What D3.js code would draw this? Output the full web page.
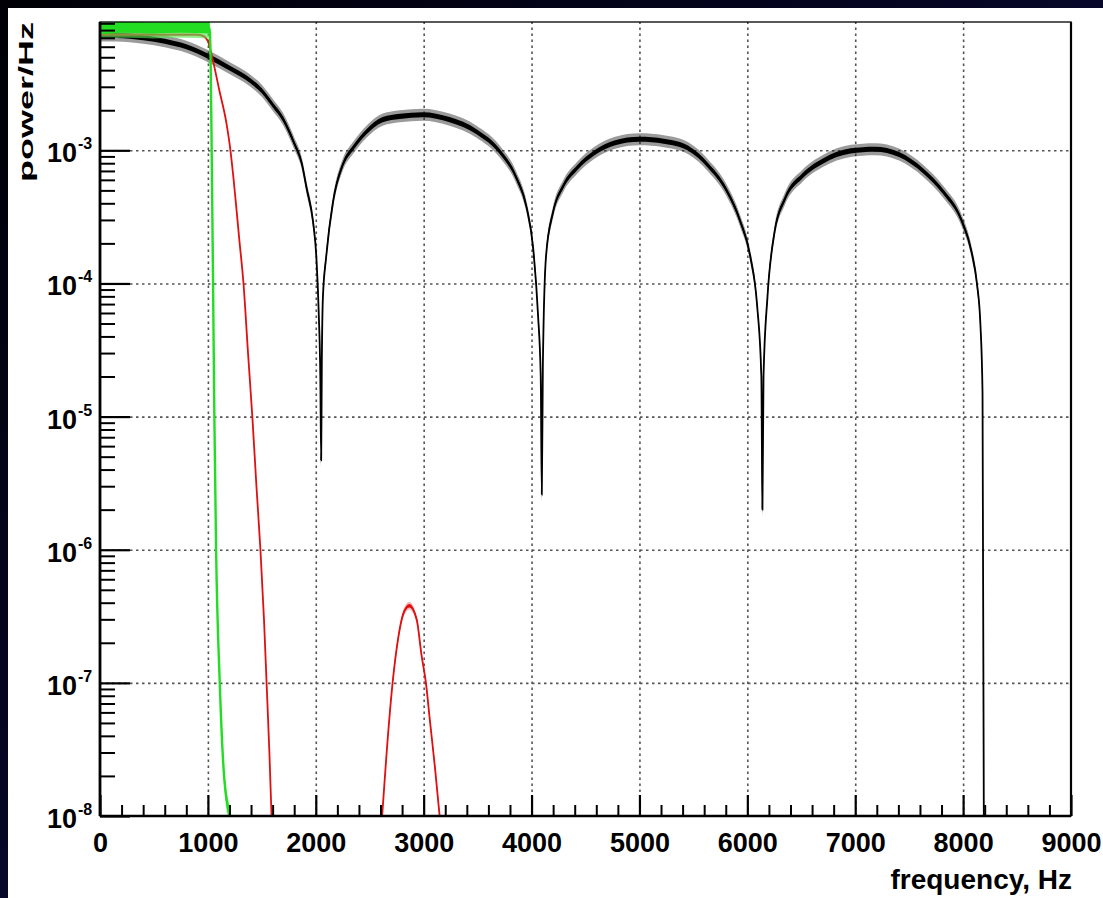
<!DOCTYPE html>
<html><head><meta charset="utf-8">
<script src="https://cdn.jsdelivr.net/npm/d3@7"></script>
<style>body{margin:0;background:#06061f;} svg{display:block}</style>
</head><body>
<svg id="c" width="1103" height="898"></svg>
<script>
// ---------- data ----------
const xTickValues = [0,1000,2000,3000,4000,5000,6000,7000,8000,9000];
const xTickLabels = ["0","1000","2000","3000","4000","5000","6000","7000","8000","9000"];
const yTickValues = [1e-8,1e-7,1e-6,1e-5,1e-4,1e-3];
const yTickExponents = ["-8","-7","-6","-5","-4","-3"];
const xTitle = "frequency, Hz";
const yTitle = "power/Hz";

const blackFreq  = [0,150,400,600,800,1000,1200,1400,1500,1600,1700,1800,1870,1915,1975,2005,2028,2042,2050,2056,2066,2097,2160,2250,2345,2470,2620,2780,2990,3240,3490,3705,3860,3955,4015,4060,4085,4095,4105,4134,4198,4294,4423,4583,4775,5000,5225,5449,5642,5802,5930,6027,6091,6130,6140,6150,6187,6251,6347,6508,6700,6957,7182,7406,7631,7823,7984,8080,8128,8160,8180,8192];
const blackPower = [7.3e-3,7.3e-3,7.0e-3,6.6e-3,6.0e-3,5.1e-3,4.15e-3,3.3e-3,2.8e-3,2.2e-3,1.7e-3,1.13e-3,8e-4,5.2e-4,2.9e-4,1.6e-4,5.8e-5,2e-5,4.7e-6,2.5e-5,7.8e-5,1.6e-4,4.1e-4,7.8e-4,1.04e-3,1.38e-3,1.7e-3,1.8e-3,1.85e-3,1.7e-3,1.38e-3,9.8e-4,6.2e-4,3.7e-4,1.84e-4,5.8e-5,2e-5,2.6e-6,2.5e-5,1.6e-4,3.4e-4,5.4e-4,7.4e-4,9.6e-4,1.14e-3,1.21e-3,1.17e-3,1.04e-3,7.6e-4,5.1e-4,3.0e-4,1.6e-4,6.8e-5,2e-5,2.0e-6,2e-5,8e-5,2.4e-4,4.3e-4,6.4e-4,8.3e-4,9.9e-4,1.02e-3,9.3e-4,7.0e-4,4.8e-4,3.0e-4,1.7e-4,1.0e-4,5e-5,1.5e-5,1e-8];

const redFreq  = [0,300,600,900,960,1000,1045,1107,1169,1209,1231,1293,1330,1372,1412,1450,1487,1520,1544,1570,1590];
const redPower = [7.4e-3,7.4e-3,7.4e-3,7.4e-3,7.2e-3,6.6e-3,4.8e-3,2.8e-3,1.65e-3,1e-3,6.9e-4,2.06e-4,1e-4,3e-5,1e-5,3e-6,1e-6,3e-7,1e-7,3e-8,1e-8];

const redBumpFreq  = [2615,2625,2657,2712,2765,2811,2867,2935,2981,3021,3058,3105,3148];
const redBumpPower = [1e-8,1.3e-8,3e-8,1e-7,2.2e-7,3.3e-7,3.8e-7,3e-7,1.6e-7,1e-7,5.2e-8,2.3e-8,1e-8];

const greenFreq  = [0,250,500,750,1015,1025,1035,1048,1060,1076,1110,1150,1205];
const greenPower = [8.2e-3,8.4e-3,8.3e-3,8.4e-3,8.3e-3,5e-3,1e-3,1e-4,1e-5,1e-6,1e-7,2e-8,1e-8];

// ---------- layout ----------
const W = 1103, H = 898;
const L = 100, R = 1071, T = 22, B = 816;
const svg = d3.select("#c");
const font = "'Liberation Sans', Arial, Helvetica, sans-serif";

const defs = svg.append("defs");
const grad = defs.append("linearGradient").attr("id","bg").attr("x1","0").attr("y1","0").attr("x2","1").attr("y2","1");
grad.append("stop").attr("offset","0").attr("stop-color","#000006");
grad.append("stop").attr("offset","1").attr("stop-color","#0d0d4a");
svg.append("rect").attr("width",W).attr("height",H).attr("fill","url(#bg)");
svg.append("rect").attr("x",8).attr("y",8).attr("width",W-8).attr("height",H-8).attr("fill","#fff");

defs.append("clipPath").attr("id","clip").append("rect")
  .attr("x",L).attr("y",T).attr("width",R-L).attr("height",B-T);

const x = d3.scaleLinear().domain([0,9000]).range([L,R]);
const y = d3.scaleLog().domain([1e-8,9.2e-3]).range([B,T]);

// ---------- grid ----------
const gridStyle = g => g.selectAll("line").attr("stroke","#555").attr("stroke-width",1.6).attr("stroke-dasharray","2.5,3.5");
const gx = svg.append("g").attr("transform",`translate(0,${B})`)
  .call(d3.axisBottom(x).tickValues(xTickValues.slice(1,-1)).tickSize(-(B-T)).tickFormat(""));
gx.select(".domain").remove(); gridStyle(gx);
const gy = svg.append("g").attr("transform",`translate(${L},0)`)
  .call(d3.axisLeft(y).tickValues(yTickValues.slice(1)).tickSize(-(R-L)).tickFormat(""));
gy.select(".domain").remove(); gridStyle(gy);

// ---------- curves ----------
const plot = svg.append("g").attr("clip-path","url(#clip)");
const curve = d3.curveMonotoneX;
function band(data, f){
  return d3.area().curve(curve).x(d=>x(d[0])).y0(d=>y(d[1]/f)).y1(d=>y(d[1]*f))(data);
}
const line = d3.line().curve(curve).x(d=>x(d[0])).y(d=>y(d[1]));
function series(fr, pw, color, fuzzColor, outerF, innerF, width, outerOp){
  const data = d3.zip(fr, pw);
  plot.append("path").attr("d", band(data, outerF)).attr("fill", fuzzColor).attr("opacity",outerOp);
  plot.append("path").attr("d", band(data, innerF)).attr("fill", color);
  plot.append("path").attr("d", line(data)).attr("fill","none").attr("stroke",color).attr("stroke-width",width);
}
series(blackFreq, blackPower, "#000", "#222", 1.11, 1.045, 1.8, 0.45);
series(redFreq, redPower, "#e01010", "#f06060", 1.03, 1.012, 1.8, 0.35);
series(redBumpFreq, redBumpPower, "#e01010", "#f06060", 1.07, 1.03, 1.8, 0.45);
series(greenFreq, greenPower, "#22dd22", "#55e855", 1.2, 1.1, 2.4, 0.6);

// ---------- frame ----------
svg.append("rect").attr("x",L).attr("y",T).attr("width",R-L).attr("height",B-T)
  .attr("fill","none").attr("stroke","#000").attr("stroke-width",1.3);
svg.append("line").attr("x1",R).attr("x2",R).attr("y1",T).attr("y2",B).attr("stroke","#000").attr("stroke-width",2.2);

// ---------- x axis ----------
const xMinor = d3.range(200, 9000, 200).filter(v => v % 1000 !== 0);
const xa = svg.append("g").attr("transform",`translate(0,${B})`)
  .call(d3.axisBottom(x).tickValues(xMinor).tickSize(-11).tickFormat(""));
xa.selectAll("line").attr("stroke","#000").attr("stroke-width",2);
xa.select(".domain").remove();
const xb = svg.append("g").attr("transform",`translate(0,${B})`)
  .call(d3.axisBottom(x).tickValues(xTickValues).tickSize(-21).tickPadding(0).tickFormat((d,i)=>xTickLabels[i]));
xb.selectAll("line").attr("stroke","#000").attr("stroke-width",2.2);
xb.select(".domain").attr("stroke","#000").attr("stroke-width",2.5).attr("d",`M${L},0H${R}`);
xb.selectAll("text").attr("y",36).attr("dy",0).attr("fill","#000")
  .attr("font-family",font).attr("font-weight","bold").attr("font-size",27);

// ---------- y axis ----------
const yMinor = [];
yTickValues.forEach(v => { for (let k=2;k<=9;k++){ const m=k*v; if (m<9.2e-3) yMinor.push(m);} });
const ya = svg.append("g").attr("transform",`translate(${L},0)`)
  .call(d3.axisLeft(y).tickValues(yMinor).tickSize(-15).tickFormat(""));
ya.selectAll("line").attr("stroke","#000").attr("stroke-width",2);
ya.select(".domain").remove();
const yb = svg.append("g").attr("transform",`translate(${L},0)`)
  .call(d3.axisLeft(y).tickValues(yTickValues).tickSize(-30).tickFormat(""));
yb.selectAll("line").attr("stroke","#000").attr("stroke-width",2.2);
yb.select(".domain").attr("stroke","#000").attr("stroke-width",2.8).attr("d",`M0,${B}V${T}`);

const yl = svg.append("g");
yTickValues.forEach((v,i) => {
  const yy = y(v);
  yl.append("text").attr("x",77).attr("y",yy+12).attr("text-anchor","end")
    .attr("font-family",font).attr("font-weight","bold").attr("font-size",27).text("10");
  yl.append("text").attr("x",78).attr("y",yy-1).attr("text-anchor","start")
    .attr("font-family",font).attr("font-weight","bold").attr("font-size",16).text(yTickExponents[i]);
});

// ---------- titles ----------
svg.append("text").attr("x",R+1).attr("y",889).attr("text-anchor","end")
  .attr("font-family",font).attr("font-weight","bold").attr("font-size",28).text(xTitle);
svg.append("text").attr("transform",`translate(33,${T}) rotate(-90)`).attr("text-anchor","end")
  .attr("font-family",font).attr("font-weight","bold").attr("font-size",21)
  .attr("textLength",160).attr("lengthAdjust","spacingAndGlyphs").text(yTitle);
</script>
</body></html>
